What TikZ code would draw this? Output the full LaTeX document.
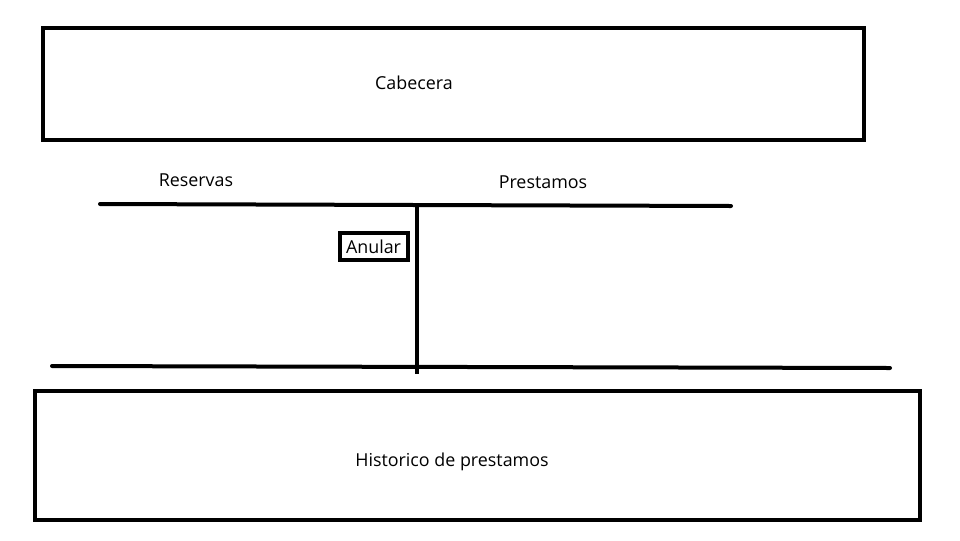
\documentclass[tikz,border=0pt]{standalone}
\usepackage{fontspec}
\setmainfont{Open Sans}
\begin{document}
\begin{tikzpicture}[x=0.75pt,y=-0.75pt,
  bigbox/.style={draw,line width=3.6pt,inner sep=0pt},
  lbl/.style={font=\fontsize{13.4}{15}\selectfont,inner sep=0pt},
  rule/.style={line width=3pt,line cap=round}]
\useasboundingbox (0,0) rectangle (960,540);
\fill[white] (0,0) rectangle (960,540);
\draw[bigbox] (43,28) rectangle (864,140);
\node[lbl] (cab) at (414,83) {Cabecera};
\node[lbl] (res) at (196,180) {Reservas};
\node[lbl] (pre) at (543,182) {Prestamos};
\coordinate (t1) at (100,204);
\coordinate (t2) at (258,204.5);
\coordinate (t3) at (572,205.5);
\coordinate (t4) at (731,206);
\draw[rule] (t1) -- (t2) -- (t3) -- (t4);
\coordinate (vt) at (417,205);
\coordinate (vb) at (417,374);
\draw[line width=3.2pt] (vt) -- (vb);
\coordinate (b1) at (52,366);
\coordinate (b2) at (260,366.5);
\coordinate (b3) at (682,367.5);
\coordinate (b4) at (890,368);
\draw[rule] (b1) -- (b2) -- (b3) -- (b4);
\node[lbl,draw,line width=3pt,inner sep=0pt,minimum width=51pt,minimum height=20pt] (anu) at (373.5,246.5) {Anular};
\draw[bigbox] (35,391) rectangle (920,520);
\node[lbl] (his) at (452,462) {Historico de prestamos};
\end{tikzpicture}
\end{document}
